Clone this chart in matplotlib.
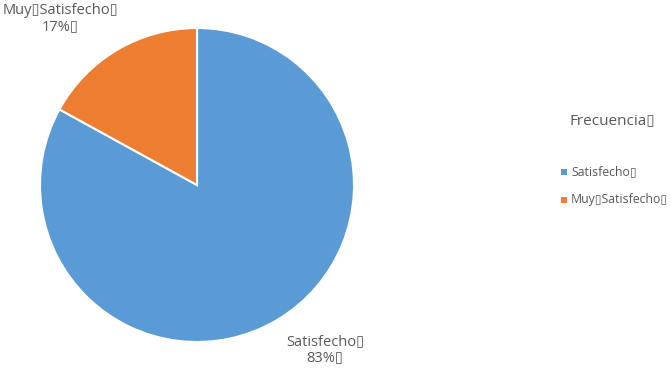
import matplotlib.pyplot as plt
from matplotlib.patches import Rectangle

# Daten
categorias = ['Satisfecho', 'Muy Satisfecho']
valores = [83, 17]
colores = ['#5B9BD5', '#ED7D31']
titulo_leyenda = 'Frecuencia'
caja = '\u25af'  # fehlende Glyphe im Original

plt.rcParams['font.family'] = ['Open Sans', 'DejaVu Sans']
gris = '#595959'

W, H = 671, 371
fig = plt.figure(figsize=(W / 100, H / 100), dpi=100)

# Kreis: Mittelpunkt (197, 185) px, Radius 157 px
cx, cy, r = 197, 185, 157
ax = fig.add_axes([(cx - r) / W, (H - cy - r) / H, 2 * r / W, 2 * r / H])
ax.pie(valores, colors=colores, startangle=90, counterclock=False,
       wedgeprops=dict(edgecolor='white', linewidth=1.5), radius=1)
ax.set_xlim(-1, 1)
ax.set_ylim(-1, 1)
ax.set_aspect('equal')
ax.axis('off')

# Beschriftungen
def fx(x):
    return x / W

def fy(y):
    return 1 - y / H

fig.text(fx(325), fy(350), f'{categorias[0]}{caja}\n{valores[0]}%{caja}', ha='center', va='center',
         fontsize=10.5, color=gris, linespacing=1.1)
fig.text(fx(60), fy(19), f'Muy{caja}Satisfecho{caja}\n{valores[1]}%{caja}', ha='center', va='center',
         fontsize=10.5, color=gris, linespacing=1.1)

# Legende
fig.text(fx(612), fy(121), titulo_leyenda + caja, ha='center', va='center', fontsize=11, color=gris)
namen = [f'Satisfecho{caja}', f'Muy{caja}Satisfecho{caja}']
for i, (n, c) in enumerate(zip(namen, colores)):
    y = 172 + i * 28
    fig.add_artist(Rectangle((fx(561), fy(y + 3)), 6 / W, 6 / H, transform=fig.transFigure,
                             facecolor=c, edgecolor='none'))
    fig.text(fx(571), fy(y), n, ha='left', va='center', fontsize=8.8, color=gris)

fig.savefig('out.png', dpi=100)
